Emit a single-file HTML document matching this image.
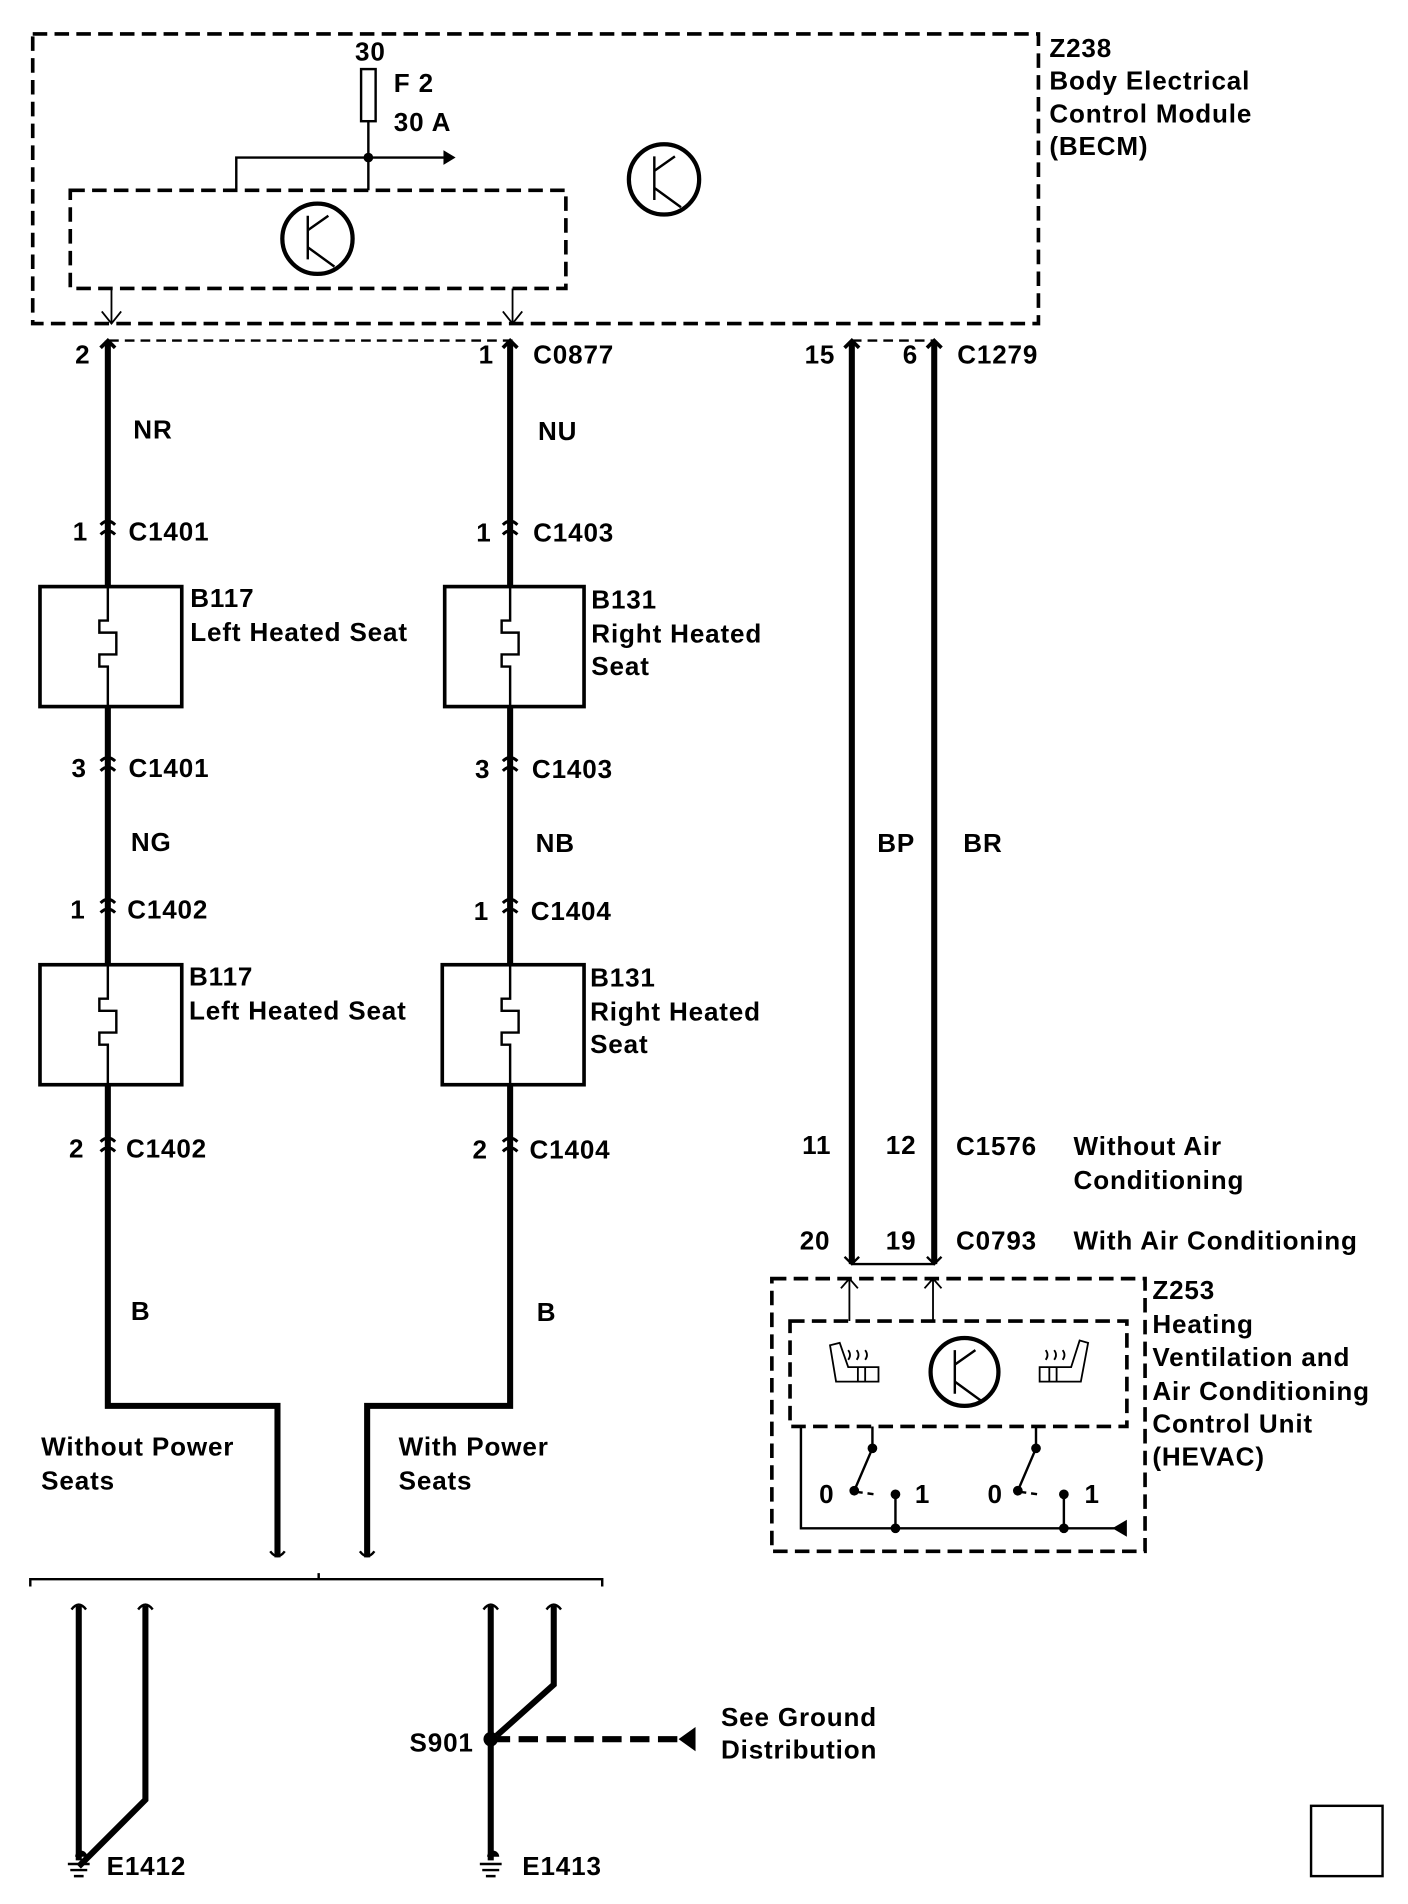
<!DOCTYPE html>
<html><head><style>
html,body{margin:0;padding:0;background:#fff;}
svg{display:block;}
text{font-family:"Liberation Sans",Arial,sans-serif;font-weight:bold;font-size:21.5px;letter-spacing:0.7px;fill:#000;}
</style></head><body>
<svg width="1408" height="1904" viewBox="0 0 1162 1571" preserveAspectRatio="none" xmlns="http://www.w3.org/2000/svg">
<g fill="none" stroke="#000">
<rect x="27" y="28" width="830" height="239" stroke-width="3" stroke-dasharray="12,6"/>
<rect x="58" y="157" width="409" height="81" stroke-width="3" stroke-dasharray="12,6"/>
<rect x="298" y="57" width="12" height="43" stroke-width="2"/>
<path d="M304 100V157 M195 157V130H366" stroke-width="2"/>
<path d="M92 238V267 M84 257L92 267L100 257 M423 238V267 M415 257L423 267L431 257" stroke-width="1.5"/>
<circle cx="262" cy="197" r="29" stroke-width="3.5"/>
<path d="M254 178V214 M254 190L271 178 M254 204L276 220" stroke-width="2"/>
<circle cx="548" cy="148" r="29" stroke-width="3.5"/>
<path d="M540 129V165 M540 141L557 129 M540 155L562 171" stroke-width="2"/>
<path d="M90 281H423 M703 281H772" stroke-width="2" stroke-dasharray="8,5"/>
<path d="M89 281V1160H229V1285 M421 281V1160H303V1285" stroke-width="5"/>
<path d="M703 283V1043 M771 283V1043" stroke-width="5"/>
<path d="M83 287L89 281L95 287 M415 287L421 281L427 287 M697 287L703 281L709 287 M765 287L771 281L777 287" stroke-width="3"/>
<path d="M697 1037L703 1043L709 1037 M765 1037L771 1043L777 1037 M703 1043H771" stroke-width="2"/>
<g stroke-width="3" fill="#fff">
<rect x="33" y="484" width="117" height="99"/>
<rect x="33" y="796" width="117" height="99"/>
<rect x="367" y="484" width="115" height="99"/>
<rect x="365" y="796" width="117" height="99"/>
</g>
<path d="M89 484V512H82V522H96V540H82V550H89V583 M89 796V824H82V834H96V852H82V862H89V895 M421 484V512H414V522H428V540H414V550H421V583 M421 796V824H414V834H428V852H414V862H421V895" stroke-width="2" fill="#fff"/>
<g stroke-width="2.5">
<path d="M83 433Q89 427 95 433 M83 441Q89 435 95 441 M415 433Q421 427 427 433 M415 441Q421 435 427 441"/>
<path d="M83 628Q89 622 95 628 M83 636Q89 630 95 636 M415 628Q421 622 427 628 M415 636Q421 630 427 636"/>
<path d="M83 745Q89 739 95 745 M83 753Q89 747 95 753 M415 745Q421 739 427 745 M415 753Q421 747 427 753"/>
<path d="M83 942Q89 936 95 942 M83 950Q89 944 95 950 M415 942Q421 936 427 942 M415 950Q421 944 427 950"/>
</g>
<path d="M223 1280Q229 1288 235 1280 M297 1280Q303 1288 309 1280" stroke-width="2"/>
<path d="M25 1309V1303H497V1309 M263 1303V1298" stroke-width="2"/>
<path d="M65 1325V1535 M120 1325V1485L65 1540 M405 1325V1535 M457 1325V1390L410 1432" stroke-width="5"/>
<path d="M59 1328Q65 1320 71 1328 M114 1328Q120 1320 126 1328 M399 1328Q405 1320 411 1328 M451 1328Q457 1320 463 1328" stroke-width="2"/>
<path d="M405 1435H560" stroke-width="5" stroke-dasharray="16,7"/>
<path d="M56 1538H74 M58 1543H72 M61 1548H69 M396 1538H414 M398 1543H412 M401 1548H409" stroke-width="2"/>
<rect x="1082" y="1490" width="59" height="58" stroke-width="2"/>
<rect x="637" y="1055" width="308" height="225" stroke-width="3" stroke-dasharray="12,6"/>
<rect x="652" y="1090" width="278" height="87" stroke-width="3" stroke-dasharray="12,6"/>
<path d="M701 1090V1055 M694 1063L701 1055L708 1063 M770 1090V1055 M763 1063L770 1055L777 1063" stroke-width="1.5"/>
<circle cx="796" cy="1132" r="28" stroke-width="3.5"/>
<path d="M788 1114V1150 M788 1126L805 1114 M788 1140L810 1156" stroke-width="2"/>
<path d="M685 1110L690 1140H725V1128H700L693 1108Z M708 1128V1140 M714 1128V1140" stroke-width="1.5"/>
<path d="M700 1122q3-4 0-8 M707 1122q3-4 0-8 M714 1122q3-4 0-8" stroke-width="1.5"/>
<path d="M898 1108L892 1140H858V1128H884L891 1106Z M866 1128V1140 M872 1128V1140" stroke-width="1.5"/>
<path d="M863 1122q3-4 0-8 M870 1122q3-4 0-8 M877 1122q3-4 0-8" stroke-width="1.5"/>
<path d="M661 1177V1261H920 M720 1177V1195L705 1230 M855 1177V1195L840 1230 M739 1233V1261 M878 1233V1261" stroke-width="2"/>
<path d="M707 1231L722 1233 M842 1231L857 1233" stroke-width="2" stroke-dasharray="5,4"/>
</g>
<g fill="#000">
<circle cx="304" cy="130" r="4"/>
<path d="M366 124L376 130L366 136Z"/>
<circle cx="405" cy="1435" r="6"/>
<path d="M560 1435L574 1425V1445Z"/>
<circle cx="720" cy="1195" r="4"/><circle cx="705" cy="1230" r="4"/><circle cx="739" cy="1233" r="4"/><circle cx="739" cy="1261" r="4"/>
<circle cx="855" cy="1195" r="4"/><circle cx="840" cy="1230" r="4"/><circle cx="878" cy="1233" r="4"/><circle cx="878" cy="1261" r="4"/>
<path d="M918 1261L930 1254V1268Z"/>
<path d="M62 1532a5 5 0 0 1 10 0Z M402 1532a5 5 0 0 1 10 0Z"/>
</g>
<text x="293" y="50">30</text>
<text x="325" y="76">F 2</text>
<text x="325" y="108">30 A</text>
<text x="866" y="47">Z238</text>
<text x="866" y="74">Body Electrical</text>
<text x="866" y="101">Control Module</text>
<text x="866" y="128">(BECM)</text>
<text x="62" y="300">2</text>
<text x="395" y="300">1</text>
<text x="440" y="300">C0877</text>
<text x="664" y="300">15</text>
<text x="745" y="300">6</text>
<text x="790" y="300">C1279</text>
<text x="110" y="362">NR</text>
<text x="444" y="363">NU</text>
<text x="60" y="446">1</text><text x="106" y="446">C1401</text>
<text x="393" y="447">1</text><text x="440" y="447">C1403</text>
<text x="157" y="501">B117</text>
<text x="157" y="529">Left Heated Seat</text>
<text x="488" y="502">B131</text>
<text x="488" y="530">Right Heated</text>
<text x="488" y="557">Seat</text>
<text x="59" y="641">3</text><text x="106" y="641">C1401</text>
<text x="392" y="642">3</text><text x="439" y="642">C1403</text>
<text x="108" y="702">NG</text>
<text x="442" y="703">NB</text>
<text x="724" y="703">BP</text>
<text x="795" y="703">BR</text>
<text x="58" y="758">1</text><text x="105" y="758">C1402</text>
<text x="391" y="759">1</text><text x="438" y="759">C1404</text>
<text x="156" y="813">B117</text>
<text x="156" y="841">Left Heated Seat</text>
<text x="487" y="814">B131</text>
<text x="487" y="842">Right Heated</text>
<text x="487" y="869">Seat</text>
<text x="57" y="955">2</text><text x="104" y="955">C1402</text>
<text x="390" y="956">2</text><text x="437" y="956">C1404</text>
<text x="662" y="952">11</text>
<text x="731" y="952">12</text>
<text x="789" y="953">C1576</text>
<text x="886" y="953">Without Air</text>
<text x="886" y="981">Conditioning</text>
<text x="660" y="1031">20</text>
<text x="731" y="1031">19</text>
<text x="789" y="1031">C0793</text>
<text x="886" y="1031">With Air Conditioning</text>
<text x="951" y="1072">Z253</text>
<text x="951" y="1100">Heating</text>
<text x="951" y="1127">Ventilation and</text>
<text x="951" y="1155">Air Conditioning</text>
<text x="951" y="1182">Control Unit</text>
<text x="951" y="1209">(HEVAC)</text>
<text x="676" y="1240">0</text><text x="755" y="1240">1</text>
<text x="815" y="1240">0</text><text x="895" y="1240">1</text>
<text x="108" y="1089">B</text>
<text x="443" y="1090">B</text>
<text x="34" y="1201">Without Power</text>
<text x="34" y="1229">Seats</text>
<text x="329" y="1201">With Power</text>
<text x="329" y="1229">Seats</text>
<text x="338" y="1445">S901</text>
<text x="595" y="1424">See Ground</text>
<text x="595" y="1451">Distribution</text>
<text x="88" y="1547">E1412</text>
<text x="431" y="1547">E1413</text>
</svg>
</body></html>
